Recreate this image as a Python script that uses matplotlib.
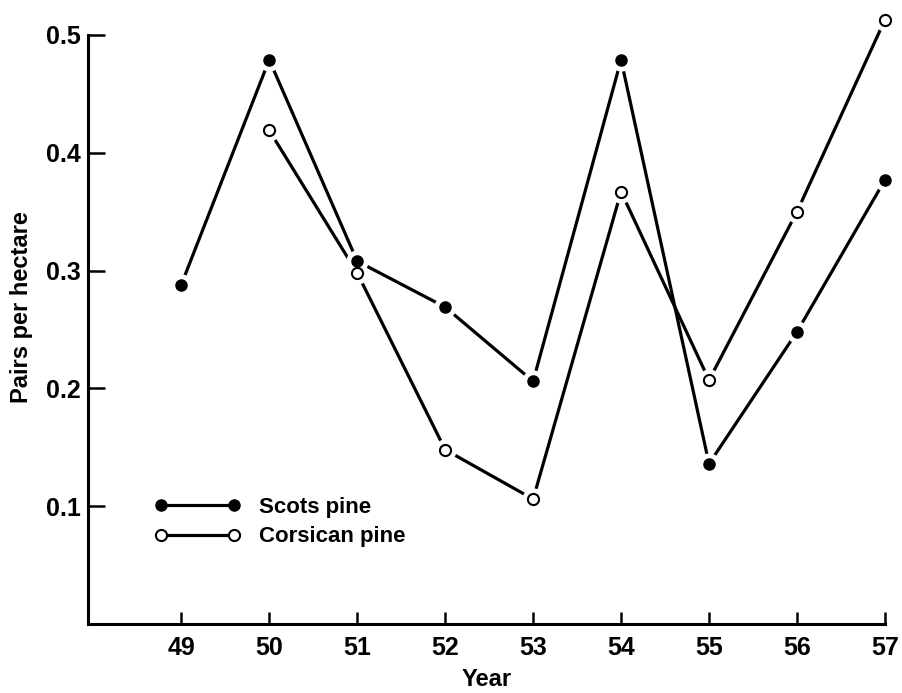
import matplotlib
matplotlib.use("Agg")
import matplotlib.pyplot as plt
from matplotlib.lines import Line2D

plt.rcParams['font.family'] = ['Liberation Sans', 'DejaVu Sans']

years = [49, 50, 51, 52, 53, 54, 55, 56, 57]
scots_years = [49, 50, 51, 52, 53, 54, 55, 56, 57]
scots = [0.288, 0.479, 0.308, 0.269, 0.206, 0.479, 0.136, 0.248, 0.377]
corsican_years = [50, 51, 52, 53, 54, 55, 56, 57]
corsican = [0.419, 0.298, 0.148, 0.106, 0.367, 0.207, 0.350, 0.513]
yticks = [0.1, 0.2, 0.3, 0.4, 0.5]
ytick_labels = ['0.1', '0.2', '0.3', '0.4', '0.5']

fig = plt.figure(figsize=(9.03, 6.93), dpi=100)
ax = fig.add_axes([0.0975, 0.0996, 0.8825, 0.8499])

lw = 2.3
ms = 8
# lines
ax.plot(scots_years, scots, color='black', lw=lw, zorder=2, clip_on=False)
ax.plot(corsican_years, corsican, color='black', lw=lw, zorder=2, clip_on=False)
# white halos around markers (gap between line and marker)
ax.plot(scots_years, scots, 'o', ms=16, color='white', mew=0, zorder=3, clip_on=False)
ax.plot(corsican_years, corsican, 'o', ms=16, color='white', mew=0, zorder=3, clip_on=False)
# markers
ax.plot(scots_years, scots, 'o', ms=ms, mfc='black', mec='black', zorder=4, clip_on=False)
ax.plot(corsican_years, corsican, 'o', ms=ms, mfc='white', mec='black', mew=1.5, zorder=4, clip_on=False)

ax.set_xlim(47.94, 57.0)
ax.set_ylim(0, 0.5)
ax.set_xticks(years)
ax.set_xticklabels([str(y) for y in years])
ax.set_yticks(yticks)
ax.set_yticklabels(ytick_labels)

for s in ['top', 'right']:
    ax.spines[s].set_visible(False)
for s in ['left', 'bottom']:
    ax.spines[s].set_linewidth(2.2)

ax.tick_params(axis='y', direction='in', length=12, width=1.8, pad=5, labelsize=18)
ax.tick_params(axis='x', direction='in', length=9, width=1.8, pad=9, labelsize=18)
for lab in ax.get_xticklabels() + ax.get_yticklabels():
    lab.set_fontweight('bold')

ax.set_ylabel('Pairs per hectare', fontsize=17, fontweight='bold')
ax.yaxis.set_label_coords(-0.083, 0.538)
ax.set_xlabel('Year', fontsize=17, fontweight='bold')
ax.xaxis.set_label_coords(0.5, -0.094)
ax.xaxis.label.set_verticalalignment('center')
ax.yaxis.label.set_verticalalignment('center')

h1 = Line2D([], [], color='black', lw=lw, marker='o', ms=ms, mfc='black', mec='black')
h2 = Line2D([], [], color='black', lw=lw, marker='o', ms=ms, mfc='white', mec='black', mew=1.5)
leg = ax.legend([h1, h2], ['Scots pine', 'Corsican pine'], loc='center left',
                bbox_to_anchor=(0.083, 0.173), frameon=False, numpoints=2,
                borderpad=0, borderaxespad=0,
                handlelength=3.9, handletextpad=0.8, labelspacing=0.38,
                prop={'size': 16, 'weight': 'bold'})

fig.savefig('out.png', dpi=100)
